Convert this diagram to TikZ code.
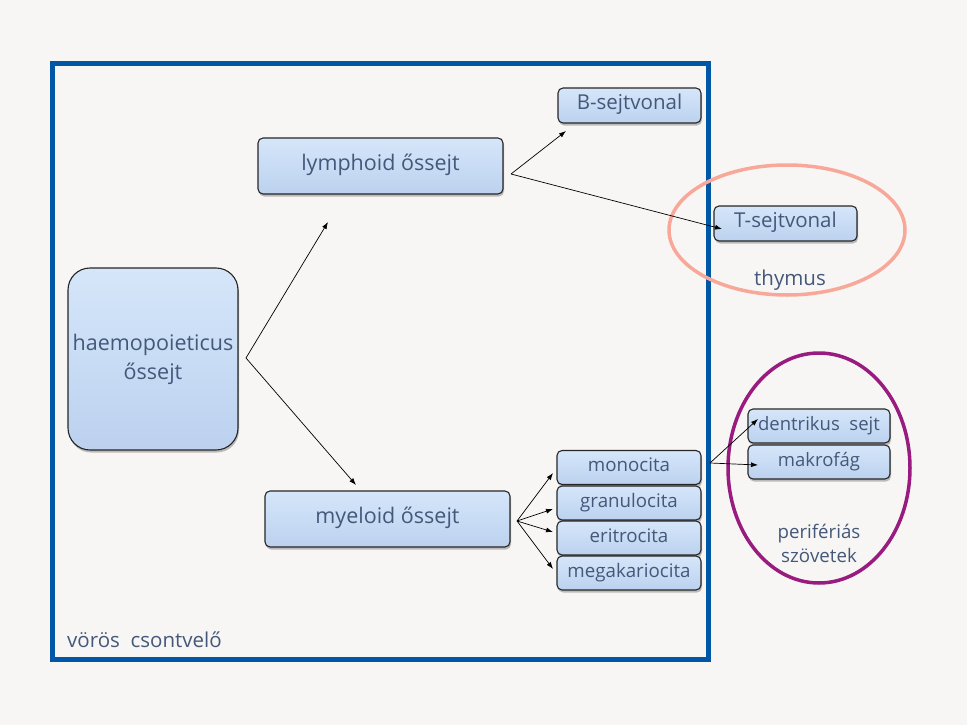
\documentclass[tikz,border=0pt]{standalone}
\usepackage{fontspec}
\setmainfont{Open Sans}
\usetikzlibrary{arrows.meta,shadows,shapes.geometric}
\definecolor{bg}{HTML}{F7F6F4}
\definecolor{frameblue}{HTML}{0057A6}
\definecolor{txt}{HTML}{44587A}
\definecolor{boxtop}{HTML}{D6E6F9}
\definecolor{boxmid}{HTML}{C8DCF5}
\definecolor{boxbot}{HTML}{BCD1EE}
\definecolor{thym}{HTML}{F7A899}
\definecolor{purp}{HTML}{9A1B7F}
\tikzset{
  cell/.style={rectangle, rounded corners=5pt, draw=black!85, line width=1.1pt,
    top color=boxtop, bottom color=boxbot, middle color=boxmid,
    drop shadow={shadow xshift=1pt, shadow yshift=-2.5pt, opacity=0.5},
    text=txt, inner sep=0pt, align=center},
  lbl/.style={text=txt, align=center, inner sep=0pt},
  arr/.style={-{Latex[length=7pt,width=5pt]}, line width=0.7pt, black},
}
\begin{document}
\begin{tikzpicture}[x=1pt,y=-1pt]
\fill[bg] (0,0) rectangle (967,725);
\useasboundingbox (0,0) rectangle (967,725);
\draw[frameblue, line width=5pt] (52.5,63.5) rectangle (708.5,659.5);
% ellipses
\draw[thym, line width=3.5pt] (787,230) ellipse [x radius=118, y radius=65];
\draw[purp, line width=3.5pt] (819,468) ellipse [x radius=91, y radius=115];
% nodes
\node[cell, rounded corners=22pt, minimum width=170pt, minimum height=182pt, font=\fontsize{21.5}{29}\selectfont] (hem) at (153,359) {haemopoieticus\\őssejt};
\node[cell, minimum width=245pt, minimum height=56pt, font=\fontsize{21.5}{24}\selectfont] (lym) at (380.5,166) {\strut lymphoid őssejt};
\node[cell, minimum width=245pt, minimum height=56pt, font=\fontsize{21.5}{24}\selectfont] (mye) at (387.5,519) {\strut myeloid őssejt};
\node[cell, minimum width=143pt, minimum height=35pt, font=\fontsize{20.5}{22}\selectfont] (bs) at (629.5,105.5) {\strut B-sejtvonal};
\node[cell, minimum width=143pt, minimum height=35pt, font=\fontsize{20.5}{22}\selectfont] (ts) at (785.5,223.5) {\strut T-sejtvonal};
\node[cell, minimum width=144pt, minimum height=34pt, font=\fontsize{18.7}{21}\selectfont] (mono) at (629,467.5) {\strut monocita};
\node[cell, minimum width=144pt, minimum height=34pt, font=\fontsize{18.7}{21}\selectfont] (gran) at (629,503) {\strut granulocita};
\node[cell, minimum width=144pt, minimum height=34pt, font=\fontsize{18.7}{21}\selectfont] (eri) at (629,538) {\strut eritrocita};
\node[cell, minimum width=144pt, minimum height=34pt, font=\fontsize{18.7}{21}\selectfont] (mega) at (629,573) {\strut megakariocita};
\node[cell, minimum width=142pt, minimum height=34pt, font=\fontsize{18.5}{21}\selectfont] (den) at (819,426) {\strut dentrikus\ \ sejt};
\node[cell, minimum width=142pt, minimum height=34pt, font=\fontsize{18.5}{21}\selectfont] (mak) at (819,462) {\strut makrofág};
% labels
\node[lbl, font=\fontsize{20.5}{22}\selectfont] (thy) at (790,280) {thymus};
\node[lbl, font=\fontsize{18.7}{24}\selectfont] (per) at (819,543) {perifériás\\szövetek};
\node[lbl, font=\fontsize{20.5}{22}\selectfont, anchor=west] (vor) at (67,640) {vörös\ \ csontvelő};
% arrow coordinates
\coordinate (hs) at (246,358);
\coordinate (he1) at (328,222);
\coordinate (he2) at (356,485);
\coordinate (ls) at (511,174);
\coordinate (bt) at (566,131);
\coordinate (tt) at (722,229);
\coordinate (ms) at (517,521);
\coordinate (m1) at (553,473);
\coordinate (m2) at (553,509);
\coordinate (m3) at (553,532);
\coordinate (m4) at (553,569);
\coordinate (os) at (710,463);
\coordinate (d1) at (758,419);
\coordinate (d2) at (758,465);
\draw[arr] (hs) -- (he1);
\draw[arr] (hs) -- (he2);
\draw[arr] (ls) -- (bt);
\draw[arr] (ls) -- (tt);
\draw[arr] (ms) -- (m1);
\draw[arr] (ms) -- (m2);
\draw[arr] (ms) -- (m3);
\draw[arr] (ms) -- (m4);
\draw[arr] (os) -- (d1);
\draw[arr] (os) -- (d2);
\end{tikzpicture}
\end{document}
